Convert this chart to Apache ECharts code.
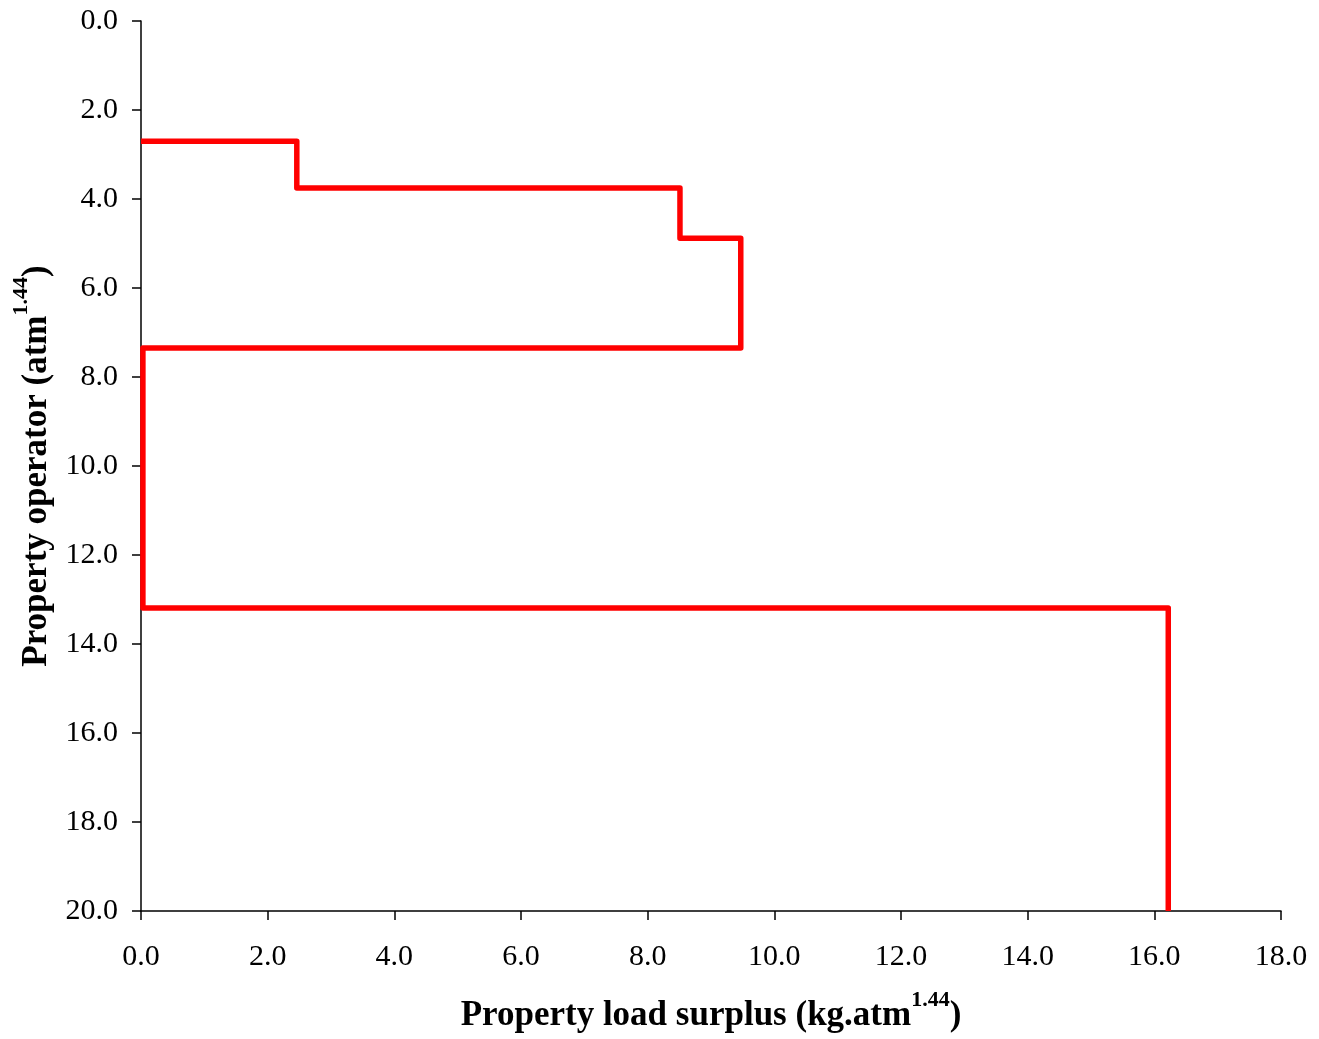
<!DOCTYPE html>
<html>
<head>
<meta charset="utf-8">
<title>Property load surplus</title>
<script src="https://cdn.jsdelivr.net/npm/echarts@6/dist/echarts.min.js"></script>
<style>
  html, body { margin: 0; padding: 0; background: #fff; }
  #main { width: 1319px; height: 1039px; }
</style>
</head>
<body>
<div id="main"></div>
<script>
// step profile (x = load surplus, y = operator)
const surplus = [0, 2.46, 2.46, 8.51, 8.51, 9.47, 9.47, 0.03, 0.03, 16.22, 16.22];
const operator = [2.70, 2.70, 3.75, 3.75, 4.88, 4.88, 7.35, 7.35, 13.19, 13.19, 20.0];

const font = 'Liberation Serif';

// chart init
const myChart = echarts.init(document.getElementById('main'));

const titleRich = {
    b: { fontFamily: font, fontWeight: 'bold', fontSize: 35, color: '#000', lineHeight: 44, verticalAlign: 'bottom' },
    sup: { fontFamily: font, fontWeight: 'bold', fontSize: 22, color: '#000', lineHeight: 44, verticalAlign: 'top' }
};

const tickLabel = {
    fontFamily: font,
    fontSize: 30,
    color: '#000',
    formatter: v => v.toFixed(1)
};

const option = {
    animation: false,
    grid: { left: 141, right: 38, top: 21, bottom: 128, outerBoundsMode: 'none' },
    xAxis: {
        type: 'value',
        position: 'bottom',
        min: 0,
        max: 18,
        interval: 2,
        name: '{b|Property load surplus (kg.atm}{sup|1.44}{b|)}',
        nameLocation: 'middle',
        nameGap: 78,
        nameTextStyle: { rich: titleRich },
        axisLine: { onZero: false, lineStyle: { color: '#000', width: 1.5 } },
        axisTick: { length: 9, lineStyle: { color: '#000', width: 1.5 } },
        axisLabel: Object.assign({ margin: 31 }, tickLabel),
        splitLine: { show: false }
    },
    yAxis: {
        type: 'value',
        inverse: true,
        min: 0,
        max: 20,
        interval: 2,
        name: '{b|Property operator (atm}{sup|1.44}{b|)}',
        nameLocation: 'middle',
        nameGap: 85,
        nameRotate: 90,
        nameTextStyle: { rich: titleRich },
        axisLine: { onZero: false, lineStyle: { color: '#000', width: 1.5 } },
        axisTick: { length: 9, lineStyle: { color: '#000', width: 1.5 } },
        axisLabel: Object.assign({ margin: 23 }, tickLabel),
        splitLine: { show: false }
    },
    series: [{
        type: 'line',
        data: surplus.map((x, i) => [x, operator[i]]),
        showSymbol: false,
        lineStyle: { color: '#ff0000', width: 5.5, join: 'round' }
    }]
};

// paint
myChart.setOption(option);
</script>
</body>
</html>
